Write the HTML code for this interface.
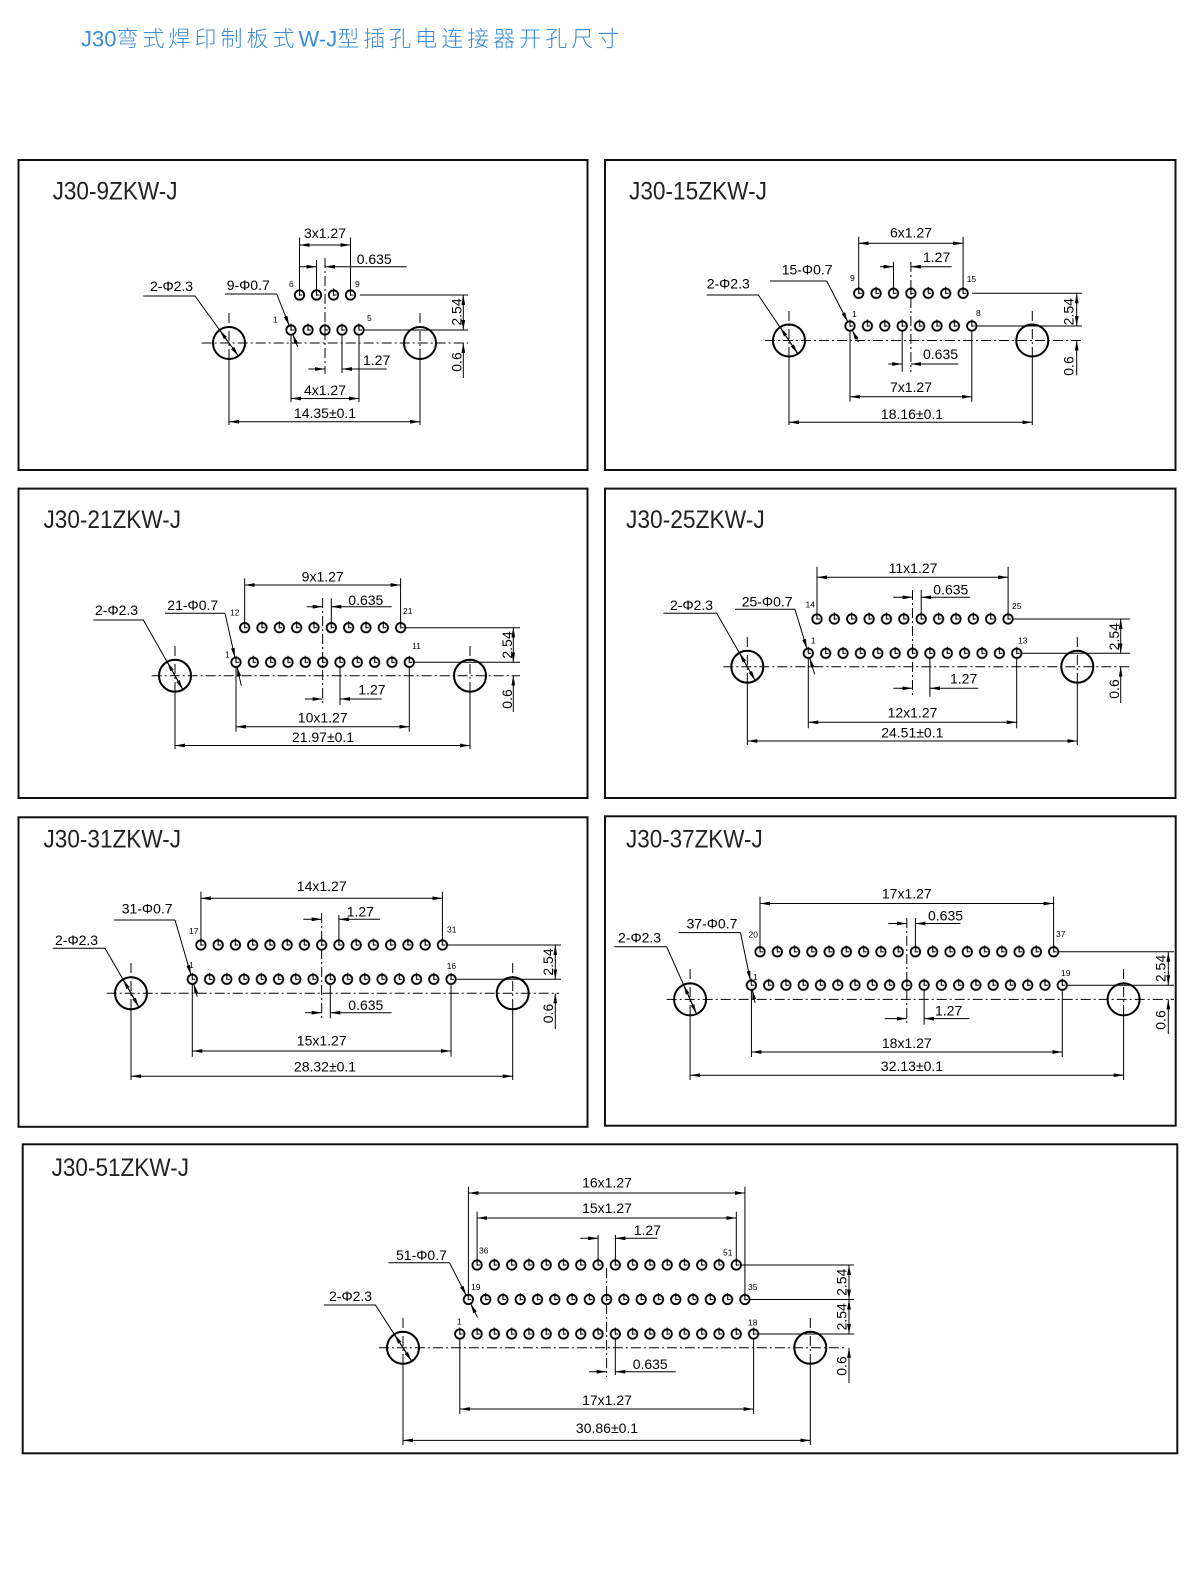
<!DOCTYPE html>
<html><head><meta charset="utf-8"><style>
html,body{margin:0;padding:0;background:#fff}
svg{display:block}
.b{fill:none;stroke:#111;stroke-width:2}
.l{stroke:#000;stroke-width:1;fill:none}
.c{stroke:#000;stroke-width:1;stroke-dasharray:10 3 2 3;fill:none}
.d{marker-start:url(#a);marker-end:url(#a)}
.e{marker-end:url(#a)}
.o{fill:none;stroke:#000;stroke-width:2}
text{font-family:"Liberation Sans",Arial,sans-serif;fill:#000}
.n{font-size:14px}
.s{font-size:8.5px}
.h{font-size:25px;fill:#222}
.t{font-family:"Liberation Sans","Noto Sans CJK SC",sans-serif;font-size:22px;fill:#3a8cd4;font-weight:300}
</style></head><body>
<svg xmlns="http://www.w3.org/2000/svg" width="1200" height="1586" viewBox="0 0 1200 1586">
<defs>
<marker id="a" viewBox="0 0 10 3.8" refX="10" refY="1.9" markerWidth="10" markerHeight="3.8" markerUnits="userSpaceOnUse" orient="auto-start-reverse"><path d="M0,0L10,1.9L0,3.8z" fill="#000"/></marker>
<g id="pin"><circle cx="0" cy="0" r="4.7" fill="none" stroke="#000" stroke-width="1.8"/><path d="M0 -6.5V0.8M0 0H3" stroke="#000" stroke-width="1.1" fill="none"/></g>
<pattern id="p1" width="17" height="16" patternUnits="userSpaceOnUse"><use href="#pin" x="8.5" y="8"/></pattern>
<pattern id="p2" width="17.4" height="16" patternUnits="userSpaceOnUse"><use href="#pin" x="8.7" y="8"/></pattern>
<pattern id="p3" width="17.33" height="16" patternUnits="userSpaceOnUse"><use href="#pin" x="8.665" y="8"/></pattern>
<pattern id="p4" width="17.37" height="16" patternUnits="userSpaceOnUse"><use href="#pin" x="8.685" y="8"/></pattern>
<pattern id="p5" width="17.25" height="16" patternUnits="userSpaceOnUse"><use href="#pin" x="8.625" y="8"/></pattern>
<pattern id="p6" width="17.27" height="16" patternUnits="userSpaceOnUse"><use href="#pin" x="8.635" y="8"/></pattern>
<pattern id="p7" width="17.28" height="16" patternUnits="userSpaceOnUse"><use href="#pin" x="8.64" y="8"/></pattern>
</defs>

<text class="t" x="81" y="46.5"><tspan>J30</tspan><tspan letter-spacing="4">弯式焊印制板式</tspan><tspan>W-J</tspan><tspan letter-spacing="4">型插孔电连接器开孔尺寸</tspan></text>

<!-- ===== Panel 1 ===== -->
<rect class="b" x="18.5" y="160" width="569" height="310"/>
<text class="h" x="52.6" y="199.3" textLength="125" lengthAdjust="spacingAndGlyphs">J30-9ZKW-J</text>
<path class="c" d="M201.7 343H468M229 313V360M420 313V360M325 258V374"/>
<path class="l" d="M229 358V425M420 358V425M299.5 237.5V290M350.5 237.5V290M316.5 260V290M360 295H468M363.5 330H468M342 335V373M291 335V402M359 335V402M143.3 296H195L238.4 356M225 294H276.7"/>
<line class="l e" x1="276.7" y1="294" x2="289.3" y2="325.8"/>
<line class="l e" x1="297.6" y1="346.7" x2="292.7" y2="334.2"/>
<line class="l e" x1="229" y1="343" x2="219.6" y2="330"/>
<line class="l e" x1="229" y1="343" x2="238.4" y2="356"/>
<line class="l d" x1="299.5" y1="245" x2="350.5" y2="245"/>
<line class="l e" x1="300" y1="266.7" x2="316.5" y2="266.7"/>
<line class="l e" x1="406.7" y1="266.7" x2="325" y2="266.7"/>
<line class="l d" x1="463.3" y1="295" x2="463.3" y2="330"/>
<line class="l e" x1="463.3" y1="378" x2="463.3" y2="343"/>
<line class="l e" x1="308.3" y1="369" x2="325" y2="369"/>
<line class="l e" x1="386.7" y1="369" x2="342" y2="369"/>
<line class="l d" x1="291" y1="398.5" x2="359" y2="398.5"/>
<line class="l d" x1="229" y1="421.7" x2="420" y2="421.7"/>
<circle class="o" cx="229" cy="343" r="16"/>
<circle class="o" cx="420" cy="343" r="16"/>
<rect transform="translate(282.5 322)" width="85" height="16" fill="url(#p1)"/>
<rect transform="translate(291 287)" width="68" height="16" fill="url(#p1)"/>
<text class="n" x="325" y="238" text-anchor="middle">3x1.27</text>
<text class="n" x="356.7" y="264">0.635</text>
<text class="n" x="150" y="291">2-Φ2.3</text>
<text class="n" x="226.7" y="290">9-Φ0.7</text>
<text class="n" transform="translate(461.5 312) rotate(-90)" text-anchor="middle">2.54</text>
<text class="n" transform="translate(461.5 362) rotate(-90)" text-anchor="middle">0.6</text>
<text class="n" x="363" y="365">1.27</text>
<text class="n" x="325" y="395" text-anchor="middle">4x1.27</text>
<text class="n" x="325" y="418" text-anchor="middle">14.35±0.1</text>
<text class="s" x="289" y="287">6</text>
<text class="s" x="355" y="287">9</text>
<text class="s" x="273" y="322.5">1</text>
<text class="s" x="367" y="321">5</text>

<!-- ===== Panel 2 ===== -->
<rect class="b" x="605" y="160" width="570.5" height="310"/>
<text class="h" x="629" y="199.3" textLength="138" lengthAdjust="spacingAndGlyphs">J30-15ZKW-J</text>
<path class="c" d="M765 340.5H1082M789 311V358M1032.3 311V358M910.9 262V372"/>
<path class="l" d="M789 356V425M1032.3 356V425M858.7 236.7V288.5M963.1 236.7V288.5M893.5 261.7V288.5M972 293.3H1082M976.7 326H1082M902.2 331V371.7M850 331V401.7M971.8 331V401.7M706.7 295H758.3L797.9 353.8M770 281H826.7"/>
<line class="l e" x1="826.7" y1="281" x2="847.9" y2="322"/>
<line class="l e" x1="858.3" y1="342" x2="852.1" y2="330"/>
<line class="l e" x1="789" y1="340.5" x2="780.1" y2="327.2"/>
<line class="l e" x1="789" y1="340.5" x2="797.9" y2="353.8"/>
<line class="l d" x1="858.7" y1="243.3" x2="963.1" y2="243.3"/>
<line class="l e" x1="880" y1="266.7" x2="893.5" y2="266.7"/>
<line class="l e" x1="951.7" y1="266.7" x2="910.9" y2="266.7"/>
<line class="l d" x1="1076.7" y1="293.3" x2="1076.7" y2="326"/>
<line class="l e" x1="1076.7" y1="375.5" x2="1076.7" y2="340.5"/>
<line class="l e" x1="888.3" y1="364" x2="902.2" y2="364"/>
<line class="l e" x1="958.3" y1="364" x2="910.9" y2="364"/>
<line class="l d" x1="850" y1="396.7" x2="971.8" y2="396.7"/>
<line class="l d" x1="789" y1="422.3" x2="1032.3" y2="422.3"/>
<circle class="o" cx="789" cy="340.5" r="16"/>
<circle class="o" cx="1032.3" cy="340.5" r="16"/>
<rect transform="translate(841.3 318)" width="139.2" height="16" fill="url(#p2)"/>
<rect transform="translate(850 285.3)" width="121.8" height="16" fill="url(#p2)"/>
<text class="n" x="911" y="237.7" text-anchor="middle">6x1.27</text>
<text class="n" x="923" y="262">1.27</text>
<text class="n" x="781.7" y="274.3">15-Φ0.7</text>
<text class="n" x="706.7" y="288.3">2-Φ2.3</text>
<text class="n" transform="translate(1073.5 311.7) rotate(-90)" text-anchor="middle">2.54</text>
<text class="n" transform="translate(1073.5 366) rotate(-90)" text-anchor="middle">0.6</text>
<text class="n" x="923" y="359">0.635</text>
<text class="n" x="911" y="392" text-anchor="middle">7x1.27</text>
<text class="n" x="912" y="419" text-anchor="middle">18.16±0.1</text>
<text class="s" x="850" y="281">9</text>
<text class="s" x="966.7" y="282">15</text>
<text class="s" x="852" y="317">1</text>
<text class="s" x="976" y="316">8</text>

<!-- ===== Panel 3 ===== -->
<rect class="b" x="18.5" y="488.6" width="569" height="309.4"/>
<text class="h" x="43.5" y="528" textLength="137.5" lengthAdjust="spacingAndGlyphs">J30-21ZKW-J</text>
<path class="c" d="M151.7 675.7H520M175 646V692M470 646V692M322.65 598V706"/>
<path class="l" d="M175 690V749M470 690V749M244.67 578.3V623M400.6 578.3V623M331.3 598.3V623M405 627.7H520M414 662.3H520M340 667V705M236 667V731.7M409.3 667V731.7M93.3 620H143.3L182.9 689.6M165 613.3H225"/>
<line class="l e" x1="225" y1="613.3" x2="235" y2="657.9"/>
<line class="l e" x1="241.3" y1="685.7" x2="237" y2="666.7"/>
<line class="l e" x1="175" y1="675.7" x2="167.1" y2="661.8"/>
<line class="l e" x1="175" y1="675.7" x2="182.9" y2="689.6"/>
<line class="l d" x1="244.67" y1="585" x2="400.6" y2="585"/>
<line class="l e" x1="306.7" y1="606.7" x2="322.65" y2="606.7"/>
<line class="l e" x1="391.7" y1="606.7" x2="331.3" y2="606.7"/>
<line class="l d" x1="513.3" y1="627.7" x2="513.3" y2="662.3"/>
<line class="l e" x1="513.3" y1="712" x2="513.3" y2="675.7"/>
<line class="l e" x1="305" y1="699" x2="322.65" y2="699"/>
<line class="l e" x1="381.7" y1="699" x2="340" y2="699"/>
<line class="l d" x1="236" y1="726.7" x2="409.3" y2="726.7"/>
<line class="l d" x1="175" y1="745.5" x2="470" y2="745.5"/>
<circle class="o" cx="175" cy="675.7" r="16"/>
<circle class="o" cx="470" cy="675.7" r="16"/>
<rect transform="translate(227.33 654.3)" width="190.63" height="16" fill="url(#p3)"/>
<rect transform="translate(236 619.7)" width="173.3" height="16" fill="url(#p3)"/>
<text class="n" x="322.7" y="581.5" text-anchor="middle">9x1.27</text>
<text class="n" x="348.3" y="605">0.635</text>
<text class="n" x="167.3" y="610">21-Φ0.7</text>
<text class="n" x="95" y="615">2-Φ2.3</text>
<text class="n" transform="translate(511.8 645) rotate(-90)" text-anchor="middle">2.54</text>
<text class="n" transform="translate(511.8 699) rotate(-90)" text-anchor="middle">0.6</text>
<text class="n" x="358.3" y="694.3">1.27</text>
<text class="n" x="322.7" y="722.7" text-anchor="middle">10x1.27</text>
<text class="n" x="323" y="742" text-anchor="middle">21.97±0.1</text>
<text class="s" x="230" y="615.7">12</text>
<text class="s" x="403" y="614">21</text>
<text class="s" x="225" y="657.3">1</text>
<text class="s" x="412" y="649">11</text>

<!-- ===== Panel 4 ===== -->
<rect class="b" x="605" y="488.6" width="570.5" height="309.4"/>
<text class="h" x="626" y="528" textLength="138.7" lengthAdjust="spacingAndGlyphs">J30-25ZKW-J</text>
<path class="c" d="M723.3 666.7H1130M747.3 637V683M1077.3 637V683M912.5 590V697"/>
<path class="l" d="M747.3 681V745M1077.3 681V745M817 566.7V614.5M1008.1 566.7V614.5M921.2 590V614.5M1012 619H1130M1022 653.3H1130M929.9 658V696.7M808.3 658V728.3M1016.7 658V728.3M663.3 613.3H716.7L755.3 680.6M735 609.3H795"/>
<line class="l e" x1="795" y1="609.3" x2="807" y2="649"/>
<line class="l e" x1="814.7" y1="674.4" x2="809.6" y2="657.6"/>
<line class="l e" x1="747.3" y1="666.7" x2="739.3" y2="652.8"/>
<line class="l e" x1="747.3" y1="666.7" x2="755.3" y2="680.6"/>
<line class="l d" x1="817" y1="577.3" x2="1008.1" y2="577.3"/>
<line class="l e" x1="893.3" y1="597.3" x2="912.5" y2="597.3"/>
<line class="l e" x1="970" y1="597.3" x2="921.2" y2="597.3"/>
<line class="l d" x1="1120.7" y1="619" x2="1120.7" y2="653.3"/>
<line class="l e" x1="1120.7" y1="703" x2="1120.7" y2="666.7"/>
<line class="l e" x1="893.3" y1="688.3" x2="912.5" y2="688.3"/>
<line class="l e" x1="978.3" y1="688.3" x2="929.9" y2="688.3"/>
<line class="l d" x1="808.3" y1="722.3" x2="1016.7" y2="722.3"/>
<line class="l d" x1="747.3" y1="741" x2="1077.3" y2="741"/>
<circle class="o" cx="747.3" cy="666.7" r="16"/>
<circle class="o" cx="1077.3" cy="666.7" r="16"/>
<rect transform="translate(799.615 645.3)" width="225.81" height="16" fill="url(#p4)"/>
<rect transform="translate(808.3 611)" width="208.44" height="16" fill="url(#p4)"/>
<text class="n" x="913" y="573" text-anchor="middle">11x1.27</text>
<text class="n" x="933.3" y="594.3">0.635</text>
<text class="n" x="741.7" y="606.5">25-Φ0.7</text>
<text class="n" x="670" y="610">2-Φ2.3</text>
<text class="n" transform="translate(1119 636.7) rotate(-90)" text-anchor="middle">2.54</text>
<text class="n" transform="translate(1119 689) rotate(-90)" text-anchor="middle">0.6</text>
<text class="n" x="950" y="683.3">1.27</text>
<text class="n" x="912.5" y="717.7" text-anchor="middle">12x1.27</text>
<text class="n" x="912.3" y="737.7" text-anchor="middle">24.51±0.1</text>
<text class="s" x="805.5" y="607.3">14</text>
<text class="s" x="1012" y="609">25</text>
<text class="s" x="810.7" y="643.3">1</text>
<text class="s" x="1018" y="643.3">13</text>

<!-- ===== Panel 5 ===== -->
<rect class="b" x="18.5" y="817.3" width="569" height="309.5"/>
<text class="h" x="43.5" y="847.6" textLength="137.5" lengthAdjust="spacingAndGlyphs">J30-31ZKW-J</text>
<path class="c" d="M106.7 993.3H559M131 963V1010M512.7 963V1010M321.65 913V1019"/>
<path class="l" d="M131 1008V1080M512.7 1008V1080M200.9 891.7V940.5M442.4 891.7V940.5M338.9 915V940.5M447 945H561M456.7 979.3H561M330.3 984V1018.3M192.3 984V1056.7M451 984V1056.7M52.7 948.3H105L139 1007.2M114 920H175"/>
<line class="l e" x1="175" y1="920" x2="191" y2="975"/>
<line class="l e" x1="197.3" y1="996.6" x2="193.6" y2="983.6"/>
<line class="l e" x1="131" y1="993.3" x2="123" y2="979.4"/>
<line class="l e" x1="131" y1="993.3" x2="139" y2="1007.2"/>
<line class="l d" x1="200.9" y1="898.3" x2="442.4" y2="898.3"/>
<line class="l e" x1="303.3" y1="919.3" x2="321.65" y2="919.3"/>
<line class="l e" x1="380" y1="919.3" x2="338.9" y2="919.3"/>
<line class="l d" x1="555.3" y1="945" x2="555.3" y2="979.3"/>
<line class="l e" x1="555.3" y1="1029" x2="555.3" y2="993.3"/>
<line class="l e" x1="305" y1="1012.7" x2="321.65" y2="1012.7"/>
<line class="l e" x1="391.7" y1="1012.7" x2="330.3" y2="1012.7"/>
<line class="l d" x1="192.3" y1="1051" x2="451" y2="1051"/>
<line class="l d" x1="131" y1="1076.2" x2="512.7" y2="1076.2"/>
<circle class="o" cx="131" cy="993.3" r="16"/>
<circle class="o" cx="512.7" cy="993.3" r="16"/>
<rect transform="translate(183.675 971.3)" width="276" height="16" fill="url(#p5)"/>
<rect transform="translate(192.3 937)" width="258.75" height="16" fill="url(#p5)"/>
<text class="n" x="321.7" y="891" text-anchor="middle">14x1.27</text>
<text class="n" x="346.7" y="916.7">1.27</text>
<text class="n" x="121.7" y="913.3">31-Φ0.7</text>
<text class="n" x="55" y="945">2-Φ2.3</text>
<text class="n" transform="translate(553 962) rotate(-90)" text-anchor="middle">2.54</text>
<text class="n" transform="translate(553 1013.5) rotate(-90)" text-anchor="middle">0.6</text>
<text class="n" x="348.3" y="1010">0.635</text>
<text class="n" x="321.7" y="1045.7" text-anchor="middle">15x1.27</text>
<text class="n" x="325" y="1071.5" text-anchor="middle">28.32±0.1</text>
<text class="s" x="189" y="934">17</text>
<text class="s" x="447" y="932.3">31</text>
<text class="s" x="189" y="968">1</text>
<text class="s" x="446.7" y="969">16</text>

<!-- ===== Panel 6 ===== -->
<rect class="b" x="605" y="816.3" width="570.7" height="309.4"/>
<text class="h" x="626" y="847.6" textLength="136.7" lengthAdjust="spacingAndGlyphs">J30-37ZKW-J</text>
<path class="c" d="M666.7 999.4H1174M690.1 969V1016M1123.6 969V1016M906.8 918V1025"/>
<path class="l" d="M690.1 1014V1080M1123.6 1014V1080M760 896.5V947.3M1053.6 896.5V947.3M915.4 918V947.3M1058 951.8H1174M1066 985.2H1174M924.1 990V1024.7M751.4 990V1057M1062.3 990V1057M614.4 946.8H666.7L696.6 1014M678.6 932.6H740.5"/>
<line class="l e" x1="740.5" y1="932.6" x2="750.5" y2="980.8"/>
<line class="l e" x1="755" y1="1002.8" x2="752.3" y2="989.6"/>
<line class="l e" x1="690.1" y1="999.4" x2="683.6" y2="984.8"/>
<line class="l e" x1="690.1" y1="999.4" x2="696.6" y2="1014"/>
<line class="l d" x1="760" y1="903.5" x2="1053.6" y2="903.5"/>
<line class="l e" x1="888.3" y1="923.5" x2="906.8" y2="923.5"/>
<line class="l e" x1="960.4" y1="923.5" x2="915.4" y2="923.5"/>
<line class="l d" x1="1168.3" y1="951.8" x2="1168.3" y2="985.2"/>
<line class="l e" x1="1168.3" y1="1034" x2="1168.3" y2="999.4"/>
<line class="l e" x1="884.7" y1="1018.6" x2="906.8" y2="1018.6"/>
<line class="l e" x1="969.4" y1="1018.6" x2="924.1" y2="1018.6"/>
<line class="l d" x1="751.4" y1="1052" x2="1062.3" y2="1052"/>
<line class="l d" x1="690.1" y1="1075.2" x2="1123.6" y2="1075.2"/>
<circle class="o" cx="690.1" cy="999.4" r="16"/>
<circle class="o" cx="1123.6" cy="999.4" r="16"/>
<rect transform="translate(742.765 977.2)" width="328.13" height="16" fill="url(#p6)"/>
<rect transform="translate(751.4 943.8)" width="310.86" height="16" fill="url(#p6)"/>
<text class="n" x="906.8" y="898.5" text-anchor="middle">17x1.27</text>
<text class="n" x="928" y="920.5">0.635</text>
<text class="n" x="686.5" y="928.6">37-Φ0.7</text>
<text class="n" x="618" y="942.7">2-Φ2.3</text>
<text class="n" transform="translate(1165.5 968.5) rotate(-90)" text-anchor="middle">2.54</text>
<text class="n" transform="translate(1165.5 1020) rotate(-90)" text-anchor="middle">0.6</text>
<text class="n" x="935" y="1015.6">1.27</text>
<text class="n" x="906.8" y="1047.9" text-anchor="middle">18x1.27</text>
<text class="n" x="912" y="1071.2" text-anchor="middle">32.13±0.1</text>
<text class="s" x="748.5" y="937.7">20</text>
<text class="s" x="1056" y="937">37</text>
<text class="s" x="753" y="980">1</text>
<text class="s" x="1061" y="976">19</text>

<!-- ===== Panel 7 ===== -->
<rect class="b" x="22.7" y="1144.3" width="1154.6" height="309"/>
<text class="h" x="51.6" y="1176" textLength="137.4" lengthAdjust="spacingAndGlyphs">J30-51ZKW-J</text>
<path class="c" d="M378.9 1347.8H844M403 1318V1364M810.3 1318V1364M606.6 1268V1377"/>
<path class="l" d="M403 1362V1445M810.3 1362V1445M468.4 1186.7V1294.5M744.9 1186.7V1294.5M477.1 1211.7V1260M736.3 1211.7V1260M598.1 1235V1260M615.4 1235V1260M741 1265H854M749 1299.5H854M758 1334H854M615.3 1339V1375M459.8 1339V1414M753.6 1339V1414M323.8 1305H375.4L411.7 1361.3M388.5 1262.7H449.5"/>
<line class="l e" x1="449.5" y1="1262.7" x2="466.3" y2="1295.5"/>
<line class="l e" x1="477.5" y1="1317.3" x2="470.5" y2="1303.5"/>
<line class="l e" x1="403" y1="1347.8" x2="394.3" y2="1334.3"/>
<line class="l e" x1="403" y1="1347.8" x2="411.7" y2="1361.3"/>
<line class="l d" x1="468.4" y1="1193" x2="744.9" y2="1193"/>
<line class="l d" x1="477.1" y1="1218" x2="736.3" y2="1218"/>
<line class="l e" x1="580.3" y1="1238.3" x2="598.1" y2="1238.3"/>
<line class="l e" x1="657.1" y1="1238.3" x2="615.4" y2="1238.3"/>
<line class="l d" x1="849" y1="1265" x2="849" y2="1299.5"/>
<line class="l d" x1="849" y1="1299.5" x2="849" y2="1334"/>
<line class="l e" x1="849" y1="1383" x2="849" y2="1347.8"/>
<line class="l e" x1="588.9" y1="1371.7" x2="606.6" y2="1371.7"/>
<line class="l e" x1="675.7" y1="1371.7" x2="615.3" y2="1371.7"/>
<line class="l d" x1="459.8" y1="1409" x2="753.6" y2="1409"/>
<line class="l d" x1="403" y1="1440.4" x2="810.3" y2="1440.4"/>
<circle class="o" cx="403" cy="1347.8" r="16"/>
<circle class="o" cx="810.3" cy="1347.8" r="16"/>
<rect transform="translate(468.46 1257)" width="276.48" height="16" fill="url(#p7)"/>
<rect transform="translate(459.76 1291.5)" width="293.76" height="16" fill="url(#p7)"/>
<rect transform="translate(451.16 1326)" width="311.04" height="16" fill="url(#p7)"/>
<text class="n" x="607" y="1187.5" text-anchor="middle">16x1.27</text>
<text class="n" x="607" y="1213" text-anchor="middle">15x1.27</text>
<text class="n" x="633.7" y="1235">1.27</text>
<text class="n" x="396" y="1260">51-Φ0.7</text>
<text class="n" x="329" y="1301">2-Φ2.3</text>
<text class="n" transform="translate(846.5 1282.3) rotate(-90)" text-anchor="middle">2.54</text>
<text class="n" transform="translate(846.5 1316.8) rotate(-90)" text-anchor="middle">2.54</text>
<text class="n" transform="translate(846.5 1366) rotate(-90)" text-anchor="middle">0.6</text>
<text class="n" x="632.7" y="1369">0.635</text>
<text class="n" x="607" y="1405" text-anchor="middle">17x1.27</text>
<text class="n" x="607" y="1433" text-anchor="middle">30.86±0.1</text>
<text class="s" x="479" y="1253.3">36</text>
<text class="s" x="723" y="1255.7">51</text>
<text class="s" x="471" y="1290">19</text>
<text class="s" x="748" y="1290">35</text>
<text class="s" x="457" y="1324.7">1</text>
<text class="s" x="748" y="1325.7">18</text>
</svg>
</body></html>
